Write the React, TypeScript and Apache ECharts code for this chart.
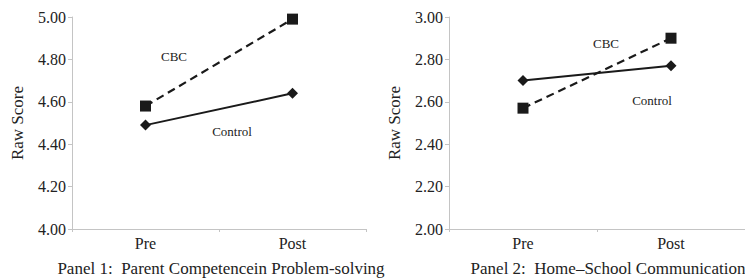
import React, { useEffect, useRef } from "react";
import * as echarts from "echarts";

const categories = ["Pre", "Post"];
const panel1CBC = [4.58, 4.99];
const panel1Control = [4.49, 4.64];
const panel2CBC = [2.57, 2.9];
const panel2Control = [2.7, 2.77];
const panel1YTicks = { min: 4.0, max: 5.0, interval: 0.2 };
const panel2YTicks = { min: 2.0, max: 3.0, interval: 0.2 };
const panelTitles = [
  "Panel 1:  Parent Competencein Problem-solving",
  "Panel 2:  Home\u2013School Communication",
];
const seriesNames = ["CBC", "Control"];

const FONT = "'Liberation Serif', 'Times New Roman', serif";
const TEXT = "#222";
const AXIS = "#c4c4c4";

export default function App() {
  const ref = useRef<HTMLDivElement>(null);
  useEffect(() => {
    if (!ref.current) return;
    const chart = echarts.init(ref.current, undefined, { renderer: "svg" });
    const xAxis = (gi: number) => ({
      type: "category",
      gridIndex: gi,
      data: categories,
      boundaryGap: true,
      axisLine: { show: true, lineStyle: { color: AXIS, width: 1 } },
      axisTick: { show: true, length: 3, lineStyle: { color: AXIS } },
      axisLabel: { color: TEXT, fontFamily: FONT, fontSize: 16, margin: 6 },
      splitLine: { show: false },
    });
    const yAxis = (gi: number, t: { min: number; max: number; interval: number }) => ({
      type: "value",
      gridIndex: gi,
      min: t.min,
      max: t.max,
      interval: t.interval,
      name: "Raw Score",
      nameLocation: "middle",
      nameRotate: 90,
      nameGap: 46,
      nameTextStyle: { color: TEXT, fontFamily: FONT, fontSize: 17 },
      axisLine: { show: true, lineStyle: { color: AXIS, width: 1 } },
      axisTick: { show: true, length: 4, lineStyle: { color: AXIS } },
      axisLabel: {
        color: TEXT,
        fontFamily: FONT,
        fontSize: 16,
        margin: 6,
        formatter: (v: number) => v.toFixed(2),
      },
      splitLine: { show: false },
    });
    const cbc = (xi: number, data: number[]) => ({
      name: seriesNames[0],
      type: "line",
      xAxisIndex: xi,
      yAxisIndex: xi,
      data,
      symbol: "rect",
      symbolSize: 11,
      itemStyle: { color: "#1a1a1a" },
      lineStyle: { color: "#1a1a1a", width: 2.2, type: [8, 5] },
    });
    const ctrl = (xi: number, data: number[]) => ({
      name: seriesNames[1],
      type: "line",
      xAxisIndex: xi,
      yAxisIndex: xi,
      data,
      symbol: "diamond",
      symbolSize: [11, 11],
      itemStyle: { color: "#1a1a1a" },
      lineStyle: { color: "#1a1a1a", width: 2 },
    });
    const label = (text: string, x: number, y: number) => ({
      type: "text",
      x,
      y,
      style: {
        text,
        fill: TEXT,
        font: `13px ${FONT}`,
        align: "center",
        verticalAlign: "middle",
      },
    });
    const titleStyle = { color: TEXT, fontFamily: FONT, fontSize: 17, fontWeight: "normal" };
    chart.setOption({
      animation: false,
      backgroundColor: "#fff",
      grid: [
        { left: 72, top: 17, width: 294, height: 212 },
        { left: 449, top: 17, width: 312, height: 212 },
      ],
      xAxis: [xAxis(0), xAxis(1)],
      yAxis: [yAxis(0, panel1YTicks), yAxis(1, panel2YTicks)],
      series: [
        cbc(0, panel1CBC),
        ctrl(0, panel1Control),
        cbc(1, panel2CBC),
        ctrl(1, panel2Control),
      ],
      title: [
        { text: panelTitles[0], left: 216, top: 255, textAlign: "center", textStyle: titleStyle },
        { text: panelTitles[1], left: 603, top: 255, textAlign: "center", textStyle: titleStyle },
      ],
      graphic: [
        label(seriesNames[0], 174, 56),
        label(seriesNames[1], 232, 131),
        label(seriesNames[0], 606, 43),
        label(seriesNames[1], 652, 100),
      ],
    });
    return () => chart.dispose();
  }, []);
  return <div ref={ref} style={{ width: 745, height: 280, position: "absolute", left: 0, top: 0 }} />;
}
